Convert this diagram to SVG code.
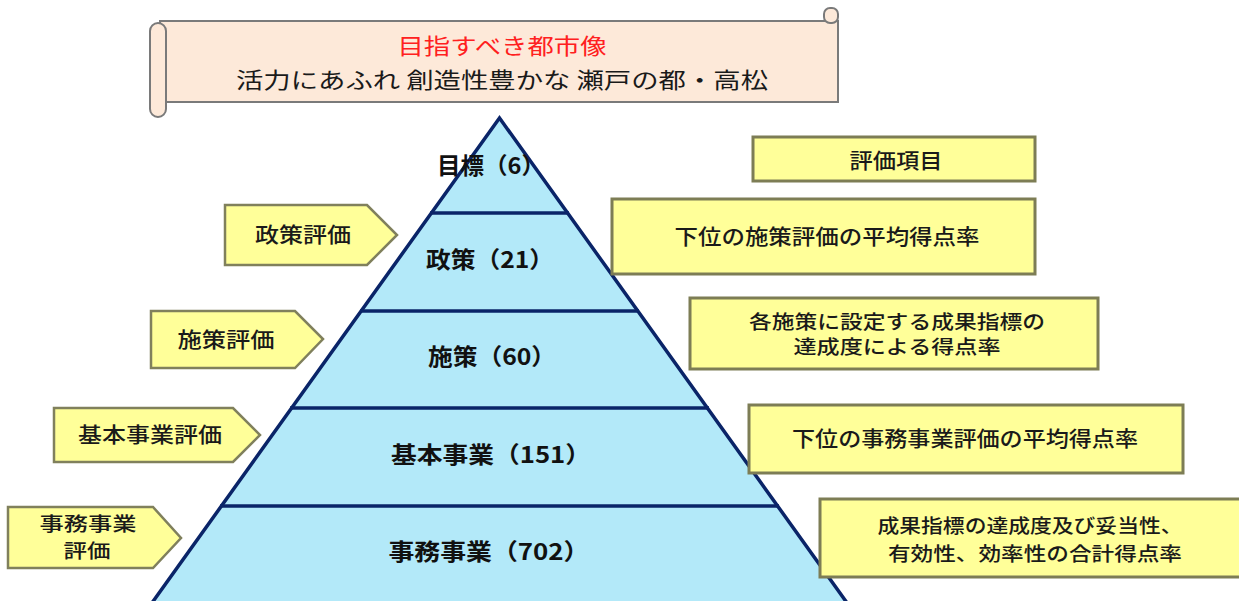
<svg xmlns="http://www.w3.org/2000/svg" width="1239" height="601" viewBox="0 0 1239 601">
<style>
text{font-family:"Noto Sans CJK JP","Noto Sans",sans-serif;dominant-baseline:central;text-anchor:middle}
.box{fill:#ffff99;stroke:#7d7d55;stroke-width:3}
.tag{fill:#ffff99;stroke:#80805c;stroke-width:2.5;stroke-linejoin:miter}
.bt{font-size:21px;fill:#1a1a1a;font-weight:500}
.bt2{font-size:19px;fill:#1a1a1a;font-weight:500}
.pt{font-size:23px;fill:#111;font-weight:bold}
.lvl{fill:#b3e9f9;stroke:none}
.div{stroke:#0a2468;stroke-width:3.5;fill:none}
.scroll{fill:#fde9d9;stroke:#7a7a7a;stroke-width:2}
</style>
<rect width="1239" height="601" fill="#ffffff"/>

<g id="banner">
  <rect class="scroll" x="160" y="21" width="678" height="81"/>
  <rect class="scroll" x="824" y="8" width="14" height="15" rx="6"/>
  <rect class="scroll" x="150" y="23" width="16" height="94" rx="8"/>
  <text x="502" y="44" style="font-size:22px;fill:#ff2020" textLength="209" lengthAdjust="spacingAndGlyphs">目指すべき都市像</text>
  <text x="502" y="78" style="font-size:22px;fill:#1a1a1a" textLength="532" lengthAdjust="spacingAndGlyphs">活力にあふれ 創造性豊かな 瀬戸の都・高松</text>
</g>

<g id="pyramid">
  <polygon class="lvl" points="499.5,118 144,614 855,614"/>
</g>

<g id="connectors">
  <polyline class="div" points="144,614 499.5,118 855,614"/>
  <line class="div" x1="430" y1="213" x2="569" y2="213"/>
  <line class="div" x1="360" y1="311" x2="639" y2="311"/>
  <line class="div" x1="290" y1="408" x2="709" y2="408"/>
  <line class="div" x1="220" y1="506" x2="779" y2="506"/>
</g>

<g id="level-goal"><text class="pt" x="491" y="164" textLength="108" lengthAdjust="spacingAndGlyphs">目標（6）</text></g>
<g id="level-policy"><text class="pt" x="490" y="258" textLength="128" lengthAdjust="spacingAndGlyphs">政策（21）</text></g>
<g id="level-measure"><text class="pt" x="492" y="355" textLength="128" lengthAdjust="spacingAndGlyphs">施策（60）</text></g>
<g id="level-basic"><text class="pt" x="491" y="453" textLength="200" lengthAdjust="spacingAndGlyphs">基本事業（151）</text></g>
<g id="level-office"><text class="pt" x="489" y="550" textLength="201" lengthAdjust="spacingAndGlyphs">事務事業（702）</text></g>

<g id="tag-policy">
  <polygon class="tag" points="225,205 367,205 397,235 367,265 225,265"/>
  <text class="bt" x="303" y="233" textLength="96" lengthAdjust="spacingAndGlyphs">政策評価</text>
</g>
<g id="tag-measure">
  <polygon class="tag" points="151,311 295,311 323,339 295,368 151,368"/>
  <text class="bt" x="226" y="338" textLength="97" lengthAdjust="spacingAndGlyphs">施策評価</text>
</g>
<g id="tag-basic">
  <polygon class="tag" points="54,408 233,408 260,435 233,462 54,462"/>
  <text class="bt" x="150" y="433" textLength="144" lengthAdjust="spacingAndGlyphs">基本事業評価</text>
</g>
<g id="tag-office">
  <polygon class="tag" points="8,507 153,507 181,538 153,568 8,568"/>
  <text class="bt2" x="88" y="522" textLength="97" lengthAdjust="spacingAndGlyphs">事務事業</text>
  <text class="bt2" x="87" y="549" textLength="47" lengthAdjust="spacingAndGlyphs">評価</text>
</g>

<g id="item-header">
  <rect class="box" x="753" y="137" width="282" height="44"/>
  <text class="bt" x="896" y="159" textLength="93" lengthAdjust="spacingAndGlyphs">評価項目</text>
</g>
<g id="item-policy">
  <rect class="box" x="612" y="199" width="423" height="75"/>
  <text class="bt" x="827" y="235" textLength="305" lengthAdjust="spacingAndGlyphs">下位の施策評価の平均得点率</text>
</g>
<g id="item-measure">
  <rect class="box" x="690" y="298" width="408" height="71"/>
  <text class="bt2" x="897" y="320" textLength="296" lengthAdjust="spacingAndGlyphs">各施策に設定する成果指標の</text>
  <text class="bt2" x="897" y="345" textLength="207" lengthAdjust="spacingAndGlyphs">達成度による得点率</text>
</g>
<g id="item-basic">
  <rect class="box" x="749" y="405" width="434" height="68"/>
  <text class="bt" x="965" y="437" textLength="346" lengthAdjust="spacingAndGlyphs">下位の事務事業評価の平均得点率</text>
</g>
<g id="item-office">
  <rect class="box" x="820" y="499" width="432" height="78"/>
  <text class="bt2" x="1030" y="524" textLength="305" lengthAdjust="spacingAndGlyphs">成果指標の達成度及び妥当性、</text>
  <text class="bt2" x="1035" y="552" textLength="294" lengthAdjust="spacingAndGlyphs">有効性、効率性の合計得点率</text>
</g>
</svg>
